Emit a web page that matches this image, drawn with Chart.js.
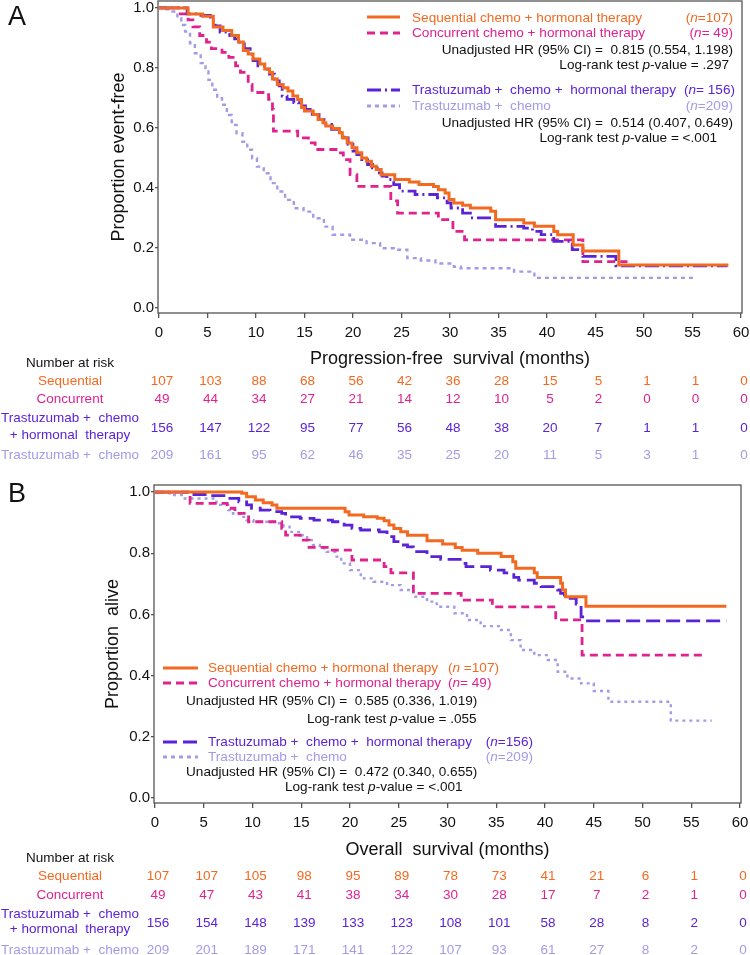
<!DOCTYPE html>
<html>
<head>
<meta charset="utf-8">
<title>Kaplan-Meier curves</title>
<script src="https://cdn.jsdelivr.net/npm/chart.js@4.4.1/dist/chart.umd.min.js"></script>
<style>
  html, body { margin: 0; padding: 0; background: #fff; }
  #wrap { position: relative; width: 750px; height: 955px; overflow: hidden; }
  canvas { position: absolute; left: 0; }
  #pfs { top: 0; }
  #os { top: 470px; }
</style>
</head>
<body>
<div id="wrap">
  <canvas id="pfs" width="750" height="470"></canvas>
  <canvas id="os" width="750" height="485"></canvas>
</div>
<script>
// ---- axis ticks ----
const xTicks = [0, 5, 10, 15, 20, 25, 30, 35, 40, 45, 50, 55, 60];
const yTicks = [0, 0.2, 0.4, 0.6, 0.8, 1.0];
const riskTimes = [0, 5, 10, 15, 20, 25, 30, 35, 40, 45, 50, 55, 60];

// ---- A: progression-free survival (time in months, proportion event-free) ----
const pfsSeqT = [0,3.0,4.5,5.6,6.6,7.5,8.2,8.7,9.2,9.7,10.4,10.9,11.4,11.7,12.2,12.8,13.3,13.8,14.3,14.7,15.0,15.9,16.4,16.9,17.2,17.9,18.6,18.9,19.4,19.9,20.4,20.9,21.4,21.9,22.4,22.9,24.3,25.8,26.8,28.3,28.8,29.5,29.9,30.4,31.3,32.1,34.2,34.7,37.6,38.7,40.7,41.1,42.7,43.7,47.4,58.7];
const pfsSeqS = [1,0.98,0.972,0.936,0.925,0.908,0.886,0.858,0.846,0.83,0.813,0.796,0.785,0.763,0.745,0.734,0.723,0.706,0.695,0.668,0.656,0.645,0.628,0.617,0.606,0.598,0.584,0.567,0.55,0.534,0.517,0.5,0.489,0.472,0.461,0.444,0.428,0.42,0.411,0.405,0.394,0.383,0.361,0.35,0.342,0.333,0.322,0.294,0.283,0.272,0.255,0.244,0.21,0.19,0.143,0.143];
const pfsConcT = [0,2.2,3.0,3.5,4.2,4.9,5.4,6.5,7.2,7.9,8.4,9.2,9.6,11.3,11.7,11.8,14.3,15.4,16.1,18.5,19.0,19.7,20.4,23.9,24.6,28.8,30.3,31.5,43.7,48.3];
const pfsConcS = [1,0.98,0.96,0.937,0.908,0.886,0.864,0.852,0.835,0.807,0.785,0.745,0.718,0.695,0.662,0.589,0.567,0.55,0.528,0.517,0.494,0.444,0.405,0.357,0.316,0.294,0.255,0.227,0.154,0.154];
const pfsTchT = [0,2.9,4.0,5.3,5.8,6.3,7.3,7.8,8.3,8.8,9.4,9.7,10.2,10.9,11.4,11.9,12.4,12.7,13.2,13.9,14.4,15.1,15.8,16.5,17.2,17.8,18.5,19.0,19.5,20.0,20.4,20.9,21.5,22.0,22.5,23.0,23.5,24.2,24.8,26.4,28.7,29.7,30.1,31.3,32.1,34.7,37.6,38.5,39.4,40.7,42.6,43.7,47.1,58.6];
const pfsTchS = [1,0.98,0.975,0.958,0.94,0.919,0.908,0.897,0.88,0.864,0.846,0.824,0.807,0.796,0.779,0.763,0.74,0.706,0.695,0.684,0.673,0.662,0.645,0.628,0.612,0.595,0.584,0.567,0.545,0.523,0.511,0.494,0.478,0.467,0.45,0.439,0.428,0.411,0.389,0.378,0.367,0.35,0.333,0.316,0.3,0.272,0.266,0.255,0.244,0.222,0.194,0.172,0.14,0.14];
const pfsTcT = [0,0.65,1.2,1.9,2.3,2.7,3.2,3.7,4.3,4.8,5.1,5.5,6.0,6.5,7.0,7.5,8.0,8.6,9.1,9.6,10.1,10.8,11.5,12.2,13.0,13.9,14.9,15.9,17.0,17.9,19.7,21.4,22.8,24.2,25.6,27.0,28.5,30.4,31.1,36.6,38.7,55.2];
const pfsTcS = [1,0.995,0.988,0.966,0.943,0.921,0.882,0.849,0.816,0.788,0.76,0.727,0.699,0.677,0.643,0.61,0.582,0.554,0.527,0.499,0.471,0.449,0.416,0.388,0.36,0.332,0.321,0.299,0.271,0.244,0.227,0.216,0.199,0.194,0.166,0.158,0.148,0.137,0.132,0.121,0.1,0.1];

const pfsRiskSeq  = [107, 103, 88, 68, 56, 42, 36, 28, 15, 5, 1, 1, 0];
const pfsRiskConc = [49, 44, 34, 27, 21, 14, 12, 10, 5, 2, 0, 0, 0];
const pfsRiskTch  = [156, 147, 122, 95, 77, 56, 48, 38, 20, 7, 1, 1, 0];
const pfsRiskTc   = [209, 161, 95, 62, 46, 35, 25, 20, 11, 5, 3, 1, 0];
const pfsStats = ['0.815 (0.554, 1.198)', '.297', '0.514 (0.407, 0.649)', '<.001'];

// ---- B: overall survival (time in months, proportion alive) ----
const osSeqT = [0,8.9,9.4,10.3,11.1,12.0,12.5,19.5,19.9,21.4,22.8,23.5,24.0,24.5,25.2,25.9,27.9,29.5,30.8,31.5,33.1,35.5,36.7,37.0,38.9,39.2,41.6,41.8,42.1,44.2,58.6];
const osSeqS = [1,0.996,0.985,0.974,0.965,0.958,0.947,0.936,0.925,0.919,0.914,0.906,0.892,0.881,0.870,0.859,0.841,0.830,0.819,0.810,0.800,0.789,0.772,0.751,0.736,0.721,0.702,0.680,0.658,0.627,0.627];
const osConcT = [0,3.6,7.4,8.2,9.6,13.0,13.4,14.9,15.8,18.0,20.2,23.5,24.2,26.5,31.4,34.6,41.1,43.8,56.2];
const osConcS = [1,0.963,0.947,0.930,0.903,0.881,0.859,0.843,0.819,0.810,0.778,0.756,0.736,0.669,0.647,0.625,0.582,0.467,0.467];
const osTchT = [0,3.4,5.5,7.5,8.6,9.4,9.9,10.8,11.8,13.0,13.4,14.9,16.3,18.2,19.4,20.2,21.1,23.0,23.8,24.5,25.2,25.9,26.5,27.9,29.3,31.3,31.9,34.4,35.8,36.8,37.3,38.9,39.6,41.3,41.6,42.0,43.2,43.7,44.2,58.6];
const osTchS = [1,0.992,0.988,0.979,0.968,0.958,0.947,0.941,0.936,0.930,0.919,0.914,0.908,0.903,0.892,0.881,0.876,0.870,0.854,0.838,0.827,0.821,0.805,0.789,0.780,0.767,0.756,0.745,0.736,0.721,0.712,0.702,0.691,0.680,0.669,0.653,0.634,0.592,0.579,0.579];
const osTcT = [0,1.5,2.9,6.3,7.5,8.0,8.7,9.4,10.1,12.5,13.2,13.8,15.0,15.6,16.2,16.9,17.6,18.5,19.1,20.0,21.1,22.4,23.8,25.2,26.5,27.9,28.9,30.7,32.0,33.4,35.5,36.5,37.5,38.9,40.3,41.3,42.3,43.7,45.0,46.5,52.9,57.1];
const osTcS = [1,0.99,0.979,0.958,0.941,0.930,0.919,0.908,0.903,0.898,0.887,0.870,0.859,0.843,0.827,0.816,0.805,0.789,0.767,0.745,0.718,0.707,0.696,0.680,0.658,0.642,0.625,0.604,0.582,0.562,0.549,0.516,0.484,0.467,0.451,0.413,0.391,0.375,0.350,0.315,0.253,0.253];

const osRiskSeq  = [107, 107, 105, 98, 95, 89, 78, 73, 41, 21, 6, 1, 0];
const osRiskConc = [49, 47, 43, 41, 38, 34, 30, 28, 17, 7, 2, 1, 0];
const osRiskTch  = [156, 154, 148, 139, 133, 123, 108, 101, 58, 28, 8, 2, 0];
const osRiskTc   = [209, 201, 189, 171, 141, 122, 107, 93, 61, 27, 8, 2, 0];
const osStats = ['0.585 (0.336, 1.019)', '.055', '0.472 (0.340, 0.655)', '<.001'];

// ---- look ----
const FONT = '"Liberation Sans", Arial, Helvetica, sans-serif';
const COL = { seq: '#f26a21', conc: '#e0228e', tch: '#5a23d6', tc: '#a39be8', ink: '#111', frame: '#555' };
const LBL_SEQ = 'Sequential chemo + hormonal therapy';
const LBL_CONC = 'Concurrent chemo + hormonal therapy';
const LBL_TCH = 'Trastuzumab +  chemo +  hormonal therapy';
const LBL_TC = 'Trastuzumab +  chemo';

Chart.defaults.font.family = FONT;
Chart.defaults.color = COL.ink;

function kmSet(label, ts, ss, color, width, dash){
  return {
    label,
    data: ts.map((t, i) => ({ x: t, y: ss[i] })),
    borderColor: color, borderWidth: width, borderDash: dash,
    stepped: 'before', pointRadius: 0, fill: false, tension: 0,
    borderCapStyle: 'butt', borderJoinStyle: 'miter'
  };
}

function axes(leftW, yMin){
  return {
    x: {
      type: 'linear', min: -0.1, max: 60.1,
      afterBuildTicks: s => { s.ticks = xTicks.map(v => ({ value: v })); },
      afterFit: s => { s.height = 30; s.paddingLeft = 0; s.paddingRight = 0; },
      ticks: { font: { size: 15 }, color: COL.ink, padding: 6, maxRotation: 0, autoSkip: false, callback: v => String(v) },
      grid: { drawOnChartArea: false, drawTicks: true, tickLength: 5, color: COL.frame, lineWidth: 1.3 },
      border: { display: false }
    },
    y: {
      min: yMin, max: 1.023,
      afterBuildTicks: s => { s.ticks = yTicks.map(v => ({ value: v })); },
      afterFit: s => { s.width = leftW; s.paddingTop = 0; s.paddingBottom = 0; },
      ticks: { font: { size: 15 }, color: COL.ink, padding: 1, callback: v => v.toFixed(1) },
      grid: { drawOnChartArea: false, drawTicks: true, tickLength: 3, color: COL.frame, lineWidth: 1.3 },
      border: { display: false }
    }
  };
}

// text with italic runs: parts = [[str, italic?], ...]
function drawRuns(ctx, parts, x, y, size, color, align){
  if(typeof parts === 'string') parts = [[parts]];
  const fonts = parts.map(p => (p[1] ? 'italic ' : '') + size + 'px ' + FONT);
  let w = 0;
  parts.forEach((p, i) => { ctx.font = fonts[i]; w += ctx.measureText(p[0]).width; });
  let cx = align === 'right' ? x - w : (align === 'center' ? x - w / 2 : x);
  ctx.fillStyle = color; ctx.textAlign = 'left'; ctx.textBaseline = 'middle';
  parts.forEach((p, i) => { ctx.font = fonts[i]; ctx.fillText(p[0], cx, y); cx += ctx.measureText(p[0]).width; });
}
const nTxt = n => [['('], ['n', 1], ['=' + n + ')']];
const pTxt = v => [['Log-rank test '], ['p', 1], ['-value = ' + v]];

// ---- frame, titles, legend block and number-at-risk table ----
const kmDeco = {
  id: 'kmDeco',
  afterDraw(chart, args, o){
    const ctx = chart.ctx, a = chart.chartArea, xs = chart.scales.x;
    ctx.save();
    ctx.strokeStyle = COL.frame; ctx.lineWidth = 1.3; ctx.setLineDash([]);
    ctx.strokeRect(a.left, a.top, a.right - a.left, a.bottom - a.top);

    drawRuns(ctx, o.letter, 17, o.letterY, 27, COL.ink, 'center');
    ctx.save();
    ctx.translate(o.yTitleX, (a.top + a.bottom) / 2);
    ctx.rotate(-Math.PI / 2);
    drawRuns(ctx, o.yTitle, 0, 0, 18, COL.ink, 'center');
    ctx.restore();
    drawRuns(ctx, o.xTitle, (a.left + a.right) / 2, o.xTitleY, 18, COL.ink, 'center');

    o.legend.forEach(it => {
      if(it.line){
        ctx.beginPath();
        ctx.strokeStyle = it.c; ctx.lineWidth = 3; ctx.setLineDash(it.d || []);
        ctx.moveTo(it.line[0], it.line[2]); ctx.lineTo(it.line[1], it.line[2]);
        ctx.stroke();
        ctx.setLineDash([]);
      } else {
        drawRuns(ctx, it.t, it.x, it.y, 13.6, it.c, it.a || 'left');
      }
    });

    const r = o.risk;
    drawRuns(ctx, 'Number at risk', r.x, r.titleY, 13.5, COL.ink, 'center');
    r.rows.forEach(row => {
      row.label.forEach((s, i) => drawRuns(ctx, s, r.x, row.ly[i], 13.5, row.c, 'center'));
      riskTimes.forEach((t, i) => {
        drawRuns(ctx, String(row.vals[i]), xs.getPixelForValue(t) + 3, row.ny, 13.5, row.c, 'center');
      });
    });
    ctx.restore();
  }
};

function baseOptions(pad, leftW, yMin, deco){
  return {
    responsive: false, animation: false, devicePixelRatio: 1,
    layout: { padding: pad },
    scales: axes(leftW, yMin),
    plugins: { legend: { display: false }, tooltip: { enabled: false }, kmDeco: deco }
  };
}

// ---- panel A ----
new Chart(document.getElementById('pfs'), {
  type: 'line',
  data: { datasets: [
    kmSet('Sequential', pfsSeqT, pfsSeqS, COL.seq, 3, []),
    kmSet('Trastuzumab + chemo + hormonal therapy', pfsTchT, pfsTchS, COL.tch, 2.8, [14, 4, 2, 4]),
    kmSet('Concurrent', pfsConcT, pfsConcS, COL.conc, 2.8, [8, 5]),
    kmSet('Trastuzumab + chemo', pfsTcT, pfsTcS, COL.tc, 2.4, [4, 4])
  ]},
  options: baseOptions({ top: 1, right: 8, bottom: 127, left: 0 }, 158, -0.017, {
    letter: 'A', letterY: 18,
    yTitle: 'Proportion event-free', yTitleX: 119,
    xTitle: 'Progression-free  survival (months)', xTitleY: 359,
    legend: [
      { line: [367, 400, 17], c: COL.seq },
      { t: LBL_SEQ, x: 412, y: 18, c: COL.seq },
      { t: nTxt(107), x: 733, y: 18, c: COL.seq, a: 'right' },
      { line: [367, 400, 33], c: COL.conc, d: [8, 5] },
      { t: LBL_CONC, x: 412, y: 33, c: COL.conc },
      { t: [['('], ['n', 1], ['= 49)']], x: 733, y: 33, c: COL.conc, a: 'right' },
      { t: 'Unadjusted HR (95% CI) =  ' + pfsStats[0], x: 733, y: 50, c: COL.ink, a: 'right' },
      { t: pTxt(pfsStats[1]), x: 729, y: 65, c: COL.ink, a: 'right' },
      { line: [367, 400, 90], c: COL.tch, d: [14, 4, 2, 4] },
      { t: LBL_TCH, x: 412, y: 90, c: COL.tch },
      { t: [['('], ['n', 1], ['= 156)']], x: 735, y: 90, c: COL.tch, a: 'right' },
      { line: [367, 400, 106], c: COL.tc, d: [4, 4] },
      { t: LBL_TC, x: 412, y: 106, c: COL.tc },
      { t: nTxt(209), x: 733, y: 106, c: COL.tc, a: 'right' },
      { t: 'Unadjusted HR (95% CI) =  ' + pfsStats[2], x: 733, y: 123, c: COL.ink, a: 'right' },
      { t: pTxt(pfsStats[3]), x: 717, y: 138, c: COL.ink, a: 'right' }
    ],
    risk: { x: 70, titleY: 363, rows: [
      { label: ['Sequential'], ly: [381], ny: 381, vals: pfsRiskSeq, c: COL.seq },
      { label: ['Concurrent'], ly: [399], ny: 399, vals: pfsRiskConc, c: COL.conc },
      { label: ['Trastuzumab +  chemo', '+ hormonal  therapy'], ly: [418, 435], ny: 428, vals: pfsRiskTch, c: COL.tch },
      { label: ['Trastuzumab +  chemo'], ly: [455], ny: 455, vals: pfsRiskTc, c: COL.tc }
    ]}
  }),
  plugins: [kmDeco]
});

// ---- panel B ----
new Chart(document.getElementById('os'), {
  type: 'line',
  data: { datasets: [
    kmSet('Sequential', osSeqT, osSeqS, COL.seq, 3, []),
    kmSet('Trastuzumab + chemo + hormonal therapy', osTchT, osTchS, COL.tch, 2.8, [14, 6]),
    kmSet('Concurrent', osConcT, osConcS, COL.conc, 2.8, [8, 5]),
    kmSet('Trastuzumab + chemo', osTcT, osTcS, COL.tc, 2.4, [3, 4])
  ]},
  options: baseOptions({ top: 15, right: 9, bottom: 122, left: 0 }, 154, -0.016, {
    letter: 'B', letterY: 25,
    yTitle: 'Proportion  alive', yTitleX: 113,
    xTitle: 'Overall  survival (months)', xTitleY: 380,
    legend: [
      { line: [163, 198, 198], c: COL.seq },
      { t: LBL_SEQ, x: 208, y: 198, c: COL.seq },
      { t: [['('], ['n', 1], [' =107)']], x: 448, y: 198, c: COL.seq },
      { line: [163, 198, 213], c: COL.conc, d: [8, 5] },
      { t: LBL_CONC, x: 208, y: 213, c: COL.conc },
      { t: [['('], ['n', 1], ['= 49)']], x: 448, y: 213, c: COL.conc },
      { t: 'Unadjusted HR (95% CI) =  ' + osStats[0], x: 186, y: 231, c: COL.ink },
      { t: pTxt(osStats[1]), x: 307, y: 249, c: COL.ink },
      { line: [163, 198, 272], c: COL.tch, d: [14, 6] },
      { t: LBL_TCH, x: 208, y: 272, c: COL.tch },
      { t: nTxt(156), x: 533, y: 272, c: COL.tch, a: 'right' },
      { line: [163, 198, 287], c: COL.tc, d: [4, 4] },
      { t: LBL_TC, x: 208, y: 287, c: COL.tc },
      { t: nTxt(209), x: 533, y: 287, c: COL.tc, a: 'right' },
      { t: 'Unadjusted HR (95% CI) =  ' + osStats[2], x: 186, y: 302, c: COL.ink },
      { t: pTxt(osStats[3]), x: 285, y: 317, c: COL.ink }
    ],
    risk: { x: 70, titleY: 388, rows: [
      { label: ['Sequential'], ly: [406], ny: 406, vals: osRiskSeq, c: COL.seq },
      { label: ['Concurrent'], ly: [425], ny: 425, vals: osRiskConc, c: COL.conc },
      { label: ['Trastuzumab +  chemo', '+ hormonal  therapy'], ly: [444, 459], ny: 453, vals: osRiskTch, c: COL.tch },
      { label: ['Trastuzumab +  chemo'], ly: [480], ny: 480, vals: osRiskTc, c: COL.tc }
    ]}
  }),
  plugins: [kmDeco]
});
</script>
</body>
</html>
